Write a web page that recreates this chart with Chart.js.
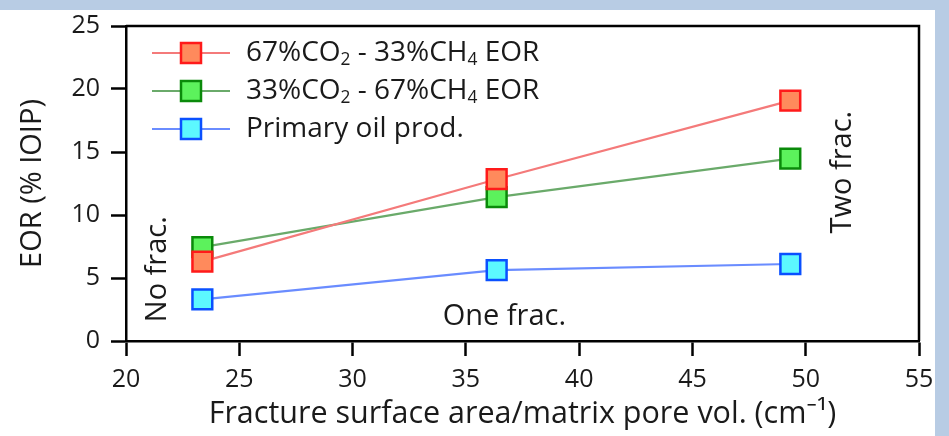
<!DOCTYPE html>
<html>
<head>
<meta charset="utf-8">
<script src="https://cdn.jsdelivr.net/npm/chart.js@4.4.0/dist/chart.umd.min.js"></script>
<style>
  html, body { margin: 0; padding: 0; background: #b8cce4; }
  #wrap { position: absolute; left: 0; top: 0; width: 949px; height: 436px; }
</style>
</head>
<body>
<div id="wrap"><canvas id="chart" width="949" height="436"></canvas></div>
<script>
// data
const fractureArea = [23.37, 36.36, 49.32];
const co2RichEOR = [6.3, 12.84, 19.08];
const ch4RichEOR = [7.45, 11.42, 14.48];
const primaryOil = [3.3, 5.62, 6.11];
const xTickValues = [20, 25, 30, 35, 40, 45, 50, 55];
const yTickValues = [0, 5, 10, 15, 20, 25];
const seriesLabels = ["67%CO₂ - 33%CH₄ EOR", "33%CO₂ - 67%CH₄ EOR", "Primary oil prod."];
const fracLabels = ["No frac.", "One frac.", "Two frac."];

const FONT = "'Open Sans', 'Noto Sans', sans-serif";
const SUBS = "₀₁₂₃₄₅₆₇₈₉";

function Points(ys) {
  return fractureArea.map((x, i) => ({ x: x, y: ys[i] }));
}

function MakeSeries(label, ys, line, fill, edge) {
  return {
    label: label,
    data: Points(ys),
    borderColor: line,
    borderWidth: 2.2,
    pointStyle: "rect",
    pointRadius: 14,
    pointHoverRadius: 14,
    pointBackgroundColor: fill,
    pointBorderColor: edge,
    pointBorderWidth: 2.5,
    tension: 0,
  };
}

// light blue frame around white panel
const backgroundPlugin = {
  id: "bg",
  beforeDraw(chart) {
    const ctx = chart.ctx;
    ctx.save();
    ctx.fillStyle = "#b8cce4";
    ctx.fillRect(0, 0, chart.width, chart.height);
    ctx.fillStyle = "#ffffff";
    ctx.fillRect(0, 10, 935, chart.height - 10);
    ctx.restore();
  },
};

// top + right frame lines
const framePlugin = {
  id: "frame",
  beforeDatasetsDraw(chart) {
    const { ctx, chartArea: a } = chart;
    ctx.save();
    ctx.strokeStyle = "#000";
    ctx.lineWidth = 2.5;
    ctx.beginPath();
    ctx.moveTo(a.left, a.top);
    ctx.lineTo(a.right, a.top);
    ctx.lineTo(a.right, a.bottom);
    ctx.stroke();
    ctx.restore();
  },
};

// text with unicode subscripts drawn small and lowered
function DrawRichText(ctx, text, x, y, size) {
  let cx = x;
  for (const ch of text) {
    const idx = SUBS.indexOf(ch);
    if (idx >= 0) {
      ctx.font = `${size * 0.62}px ${FONT}`;
      ctx.fillText(String(idx), cx, y + size * 0.24);
      cx += ctx.measureText(String(idx)).width;
    } else {
      ctx.font = `${size}px ${FONT}`;
      ctx.fillText(ch, cx, y);
      cx += ctx.measureText(ch).width;
    }
  }
}

const legendPlugin = {
  id: "legendBox",
  afterDraw(chart) {
    const ctx = chart.ctx;
    ctx.save();
    chart.data.datasets.forEach((ds, i) => {
      const y = 53 + i * 38;
      ctx.strokeStyle = ds.borderColor;
      ctx.lineWidth = 2.2;
      ctx.beginPath();
      ctx.moveTo(152, y);
      ctx.lineTo(230, y);
      ctx.stroke();
      ctx.fillStyle = ds.pointBackgroundColor;
      ctx.strokeStyle = ds.pointBorderColor;
      ctx.lineWidth = 2.5;
      ctx.fillRect(181, y - 10, 20, 20);
      ctx.strokeRect(181, y - 10, 20, 20);
      ctx.fillStyle = "#1a1a1a";
      ctx.textBaseline = "middle";
      ctx.textAlign = "left";
      DrawRichText(ctx, ds.label, 246, y, 28);
    });
    ctx.restore();
  },
};

const annotationPlugin = {
  id: "fracText",
  afterDraw(chart) {
    const { ctx, scales } = chart;
    const spots = [
      { x: 21.4, y: 5.7, rot: true },
      { x: 36.7, y: 1.9, rot: false },
      { x: 51.65, y: 13.4, rot: true },
    ];
    ctx.save();
    ctx.fillStyle = "#1a1a1a";
    ctx.font = `29px ${FONT}`;
    ctx.textAlign = "center";
    ctx.textBaseline = "middle";
    spots.forEach((s, i) => {
      const px = scales.x.getPixelForValue(s.x);
      const py = scales.y.getPixelForValue(s.y);
      ctx.save();
      ctx.translate(px, py);
      if (s.rot) ctx.rotate(-Math.PI / 2);
      ctx.fillText(fracLabels[i], 0, 0);
      ctx.restore();
    });
    ctx.restore();
  },
};

function Main() {
  const ctx = document.getElementById("chart").getContext("2d");
  new Chart(ctx, {
    type: "line",
    data: {
      datasets: [
        MakeSeries(seriesLabels[0], co2RichEOR, "#f47a7a", "#ff8a5c", "#ff1a1a"),
        MakeSeries(seriesLabels[1], ch4RichEOR, "#6aaa6a", "#5cf25c", "#0a8a0a"),
        MakeSeries(seriesLabels[2], primaryOil, "#6a8cff", "#5cf8ff", "#0a50ff"),
      ],
    },
    options: {
      responsive: false,
      animation: false,
      events: [],
      layout: { padding: { top: 23, right: 30, left: 0, bottom: 0 } },
      plugins: {
        legend: { display: false },
        tooltip: { enabled: false },
      },
      scales: {
        x: {
          type: "linear",
          min: 20,
          max: 55,
          afterBuildTicks: (s) => {
            s.ticks = xTickValues.map((v) => ({ value: v }));
          },
          afterFit: (s) => {
            s.height = 95;
          },
          ticks: { color: "#1a1a1a", font: { family: FONT, size: 25 }, padding: 9 },
          grid: { drawOnChartArea: false, tickLength: 15, tickWidth: 2.5, tickColor: "#000" },
          border: { color: "#000", width: 2.5 },
          title: {
            display: true,
            text: "Fracture surface area/matrix pore vol. (cm⁻¹)",
            color: "#1a1a1a",
            font: { family: FONT, size: 30.5 },
            padding: { top: 0, bottom: 3 },
          },
        },
        y: {
          type: "linear",
          min: 0,
          max: 25,
          afterBuildTicks: (s) => {
            s.ticks = yTickValues.map((v) => ({ value: v }));
          },
          afterFit: (s) => {
            s.width = 126;
          },
          ticks: { color: "#1a1a1a", font: { family: FONT, size: 25 }, padding: 11 },
          grid: { drawOnChartArea: false, tickLength: 15, tickWidth: 2.5, tickColor: "#000" },
          border: { color: "#000", width: 2.5 },
          title: {
            display: true,
            text: "EOR (% IOIP)",
            color: "#1a1a1a",
            font: { family: FONT, size: 29 },
            padding: { top: 15, bottom: 0 },
          },
        },
      },
    },
    plugins: [backgroundPlugin, framePlugin, legendPlugin, annotationPlugin],
  });
}

Main();
</script>
</body>
</html>
